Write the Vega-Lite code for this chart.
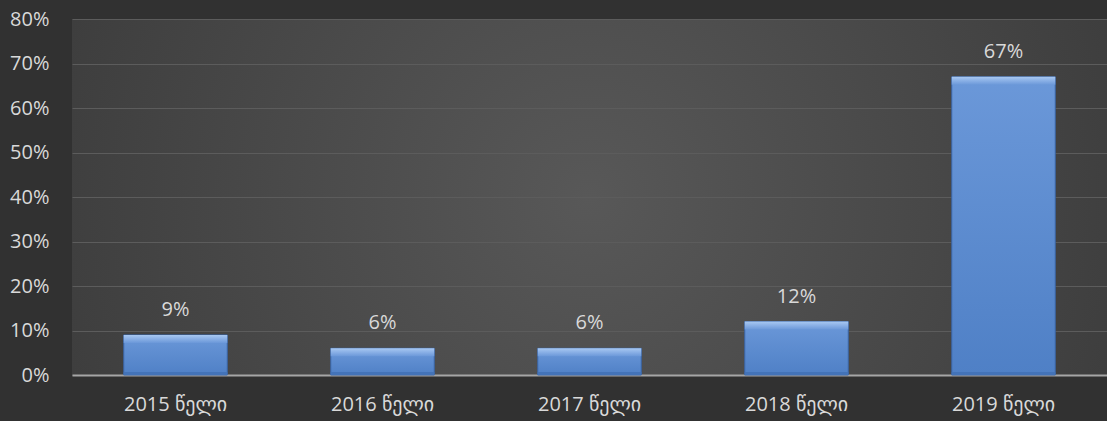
{
  "$schema": "https://vega.github.io/schema/vega-lite/v6.json",
  "width": 1035,
  "height": 356,
  "autosize": {"type": "none"},
  "padding": {"left": 72, "top": 19, "right": 0, "bottom": 46},
  "background": "#313131",
  "config": {
    "view": {
      "stroke": null,
      "fill": {
        "gradient": "radial",
        "x1": 0.5, "y1": 0.5, "r1": 0,
        "x2": 0.5, "y2": 0.5, "r2": 0.75,
        "stops": [
          {"offset": 0, "color": "#585858"},
          {"offset": 1, "color": "#333333"}
        ]
      }
    },
    "font": "Open Sans, DejaVu Sans, sans-serif"
  },
  "data": {
    "values": [
      {"year": "2015 წელი", "value": 0.09},
      {"year": "2016 წელი", "value": 0.06},
      {"year": "2017 წელი", "value": 0.06},
      {"year": "2018 წელი", "value": 0.12},
      {"year": "2019 წელი", "value": 0.67}
    ]
  },
  "encoding": {
    "x": {
      "field": "year",
      "type": "nominal",
      "sort": null,
      "scale": {"paddingInner": 0.5, "paddingOuter": 0.25},
      "axis": {
        "title": null,
        "labelAngle": 0,
        "labelColor": "#d9d9d9",
        "labelFontSize": 20,
        "labelPadding": 19,
        "ticks": false,
        "domainColor": "#a6a6a6",
        "domainWidth": 2,
        "grid": false
      }
    },
    "y": {
      "field": "value",
      "type": "quantitative",
      "scale": {"domain": [0, 0.8], "nice": false},
      "axis": {
        "title": null,
        "format": ".0%",
        "values": [0, 0.1, 0.2, 0.3, 0.4, 0.5, 0.6, 0.7, 0.8],
        "labelColor": "#d9d9d9",
        "labelFontSize": 20,
        "labelPadding": 23,
        "ticks": false,
        "domain": false,
        "gridColor": "#5c5c5c",
        "gridWidth": 1
      }
    }
  },
  "layer": [
    {
      "mark": {
        "type": "bar",
        "stroke": "#3a65a6",
        "strokeWidth": 1,
        "fill": {
          "gradient": "linear",
          "x1": 0, "y1": 0, "x2": 0, "y2": 1,
          "stops": [
            {"offset": 0, "color": "#6b98d9"},
            {"offset": 1, "color": "#4f80c6"}
          ]
        }
      }
    },
    {
      "mark": {
        "type": "bar",
        "y2Offset": 8,
        "fill": {
          "gradient": "linear",
          "x1": 0, "y1": 0, "x2": 0, "y2": 1,
          "stops": [
            {"offset": 0, "color": "#a8c8f1"},
            {"offset": 0.4, "color": "#8fb4e8"},
            {"offset": 1, "color": "#6b98d9"}
          ]
        }
      },
      "encoding": {
        "y2": {"field": "value"}
      }
    },
    {
      "mark": {
        "type": "bar",
        "yOffset": -3,
        "fill": "#4373b8"
      },
      "encoding": {
        "y": {"datum": 0},
        "y2": {"datum": 0}
      }
    },
    {
      "mark": {
        "type": "text",
        "dy": -25,
        "color": "#d9d9d9",
        "fontSize": 20
      },
      "encoding": {
        "text": {"field": "value", "type": "quantitative", "format": ".0%"}
      }
    }
  ]
}
